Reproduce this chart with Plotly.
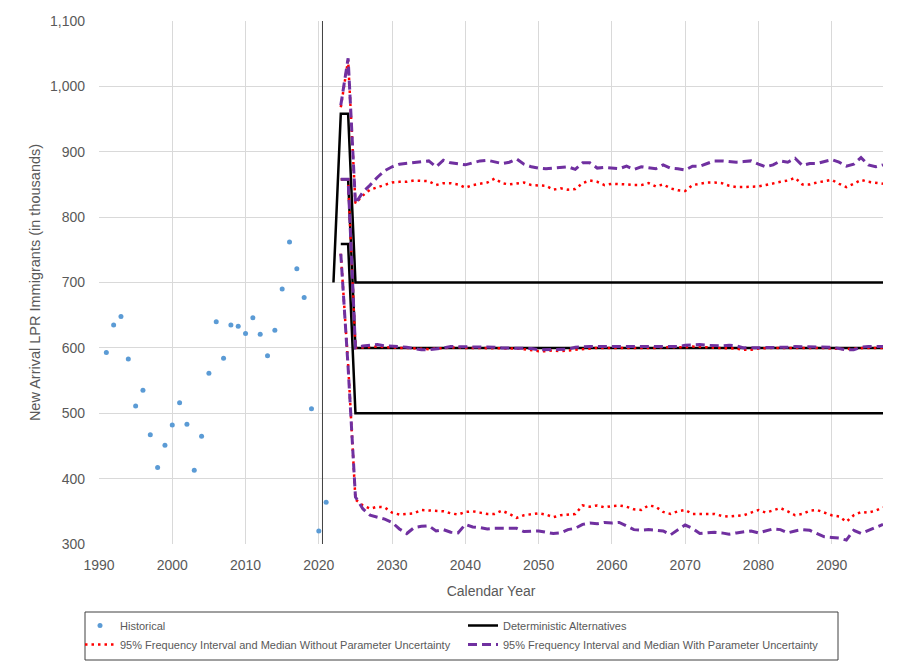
import plotly.graph_objects as go

# Historical new-arrival LPR immigrants (thousands)
hist_years = [1991, 1992, 1993, 1994, 1995, 1996, 1997, 1998, 1999, 2000,
              2001, 2002, 2003, 2004, 2005, 2006, 2007, 2008, 2009, 2010,
              2011, 2012, 2013, 2014, 2015, 2016, 2017, 2018, 2019, 2020, 2021]
hist_values = [593, 635, 648, 583, 511, 535, 467, 417, 451, 482,
               516, 483, 413, 465, 561, 640, 584, 635, 633, 622,
               646, 621, 588, 627, 690, 762, 721, 677, 507, 320, 364]

# Deterministic alternatives (high / intermediate / low)
det_high_years = [2022, 2023, 2024, 2025, 2097]
det_high_values = [700, 958, 958, 700, 700]
det_mid_years = [2023, 2024, 2025, 2097]
det_mid_values = [858, 858, 600, 600]
det_low_years = [2023, 2024, 2025, 2097]
det_low_values = [759, 759, 500, 500]

# Stochastic projection years
proj_years = list(range(2023, 2098))

# Without parameter uncertainty: upper 95%, median, lower 95%
np_upper = [968, 1040, 821,
            833, 842, 846, 850, 853, 854, 854, 856, 856, 855,
            849, 852, 852, 850, 845, 849, 851, 853, 859, 852,
            850, 852, 853, 849, 848, 848, 842, 844, 842, 843,
            852, 856, 854, 849, 851,
            851, 850, 849, 849, 852, 847, 850, 844, 841, 840,
            849, 851, 853, 853, 852, 848, 846, 846, 846, 847,
            849, 852, 854, 856, 860, 850, 850, 853, 855, 857,
            851, 846, 851, 857, 854, 852, 851]
np_median = [858, 858, 600,
             601, 601, 602, 601, 600, 600, 600, 599, 598, 598,
             599, 600, 600, 601, 600, 600, 600, 600, 600, 599,
             599, 599, 598, 596, 595, 595, 596, 595, 596, 598,
             599, 600, 600, 600, 600,
             600, 600, 600, 599, 600, 600, 601, 601, 600, 601,
             602, 602, 601, 600, 600, 600, 599, 597, 597, 599,
             600, 600, 600, 600, 600, 601, 600, 600, 600, 599,
             598, 598, 599, 600, 600, 600, 600]
np_lower = [744, 575, 368,
            359, 354, 357, 356, 348, 345, 346, 347, 352, 351,
            350, 350, 347, 345, 349, 350, 348, 346, 346, 351,
            346, 340, 344, 345, 347, 345, 341, 344, 345, 346,
            359, 357, 359, 356, 358,
            359, 357, 353, 352, 359, 357, 349, 346, 350, 352,
            346, 346, 346, 346, 343, 342, 343, 344, 348, 352,
            348, 351, 355, 350, 344, 346, 351, 352, 348, 344,
            342, 334, 344, 349, 348, 351, 356]

# With parameter uncertainty: upper 95%, median, lower 95%
wp_upper = [971, 1043, 821,
            838, 849, 861, 871, 877, 881, 882, 884, 885, 886,
            877, 887, 883, 882, 880, 883, 886, 887, 885, 882,
            884, 889, 881, 877, 875, 874, 875, 876, 877, 873,
            883, 883, 875, 876, 875,
            874, 878, 873, 877, 876, 874, 880, 875, 874, 872,
            878, 878, 882, 886, 886, 885, 884, 885, 886, 881,
            877, 880, 886, 884, 890, 879, 882, 882, 885, 888,
            884, 878, 881, 891, 880, 877, 880]
wp_median = [858, 858, 600,
             603, 604, 605, 603, 603, 602, 601, 599, 597, 597,
             598, 600, 602, 602, 602, 601, 601, 601, 601, 600,
             600, 600, 600, 599, 597, 597, 597, 597, 598, 601,
             602, 602, 602, 602, 602,
             601, 601, 601, 601, 601, 602, 602, 602, 602, 604,
             605, 605, 604, 603, 603, 604, 603, 600, 600, 600,
             600, 600, 600, 601, 602, 602, 602, 602, 602, 601,
             599, 597, 597, 601, 602, 602, 602]
wp_lower = [744, 570, 372,
            354, 344, 341, 338, 333, 323, 316, 325, 327, 328,
            320, 322, 318, 317, 330, 326, 325, 323, 324, 324,
            324, 324, 319, 319, 320, 318, 316, 317, 322, 324,
            330, 332, 331, 333, 332,
            333, 328, 322, 321, 322, 321, 320, 314, 322, 329,
            324, 316, 317, 318, 317, 315, 317, 318, 320, 317,
            320, 323, 322, 317, 320, 322, 321, 316, 311, 310,
            309, 306, 321, 316, 321, 325, 330]

divider_year = 2020.5

TXT = "#595959"
GRID = "#D9D9D9"
FONT = "Liberation Sans"
W, H = 902, 664


def joined(*parts):
    """Concatenate several line segments into one trace, separated by gaps."""
    out = []
    for k, p in enumerate(parts):
        if k:
            out.append(None)
        out.extend(p)
    return out


fig = go.Figure()

fig.add_trace(go.Scatter(
    x=hist_years, y=hist_values, mode="markers", name="Historical",
    marker=dict(color="#5B9BD5", size=5),
))

fig.add_trace(go.Scatter(
    x=joined(det_high_years, det_mid_years, det_low_years),
    y=joined(det_high_values, det_mid_values, det_low_values),
    mode="lines", name="Deterministic Alternatives",
    line=dict(color="black", width=2.5),
))

fig.add_trace(go.Scatter(
    x=joined(proj_years, proj_years, proj_years),
    y=joined(np_upper, np_median, np_lower),
    mode="lines",
    name="95% Frequency Interval and Median Without Parameter Uncertainty",
    line=dict(color="#FF0000", width=2.5, dash="2.5px,4px"),
))

fig.add_trace(go.Scatter(
    x=joined(proj_years, proj_years, proj_years),
    y=joined(wp_upper, wp_median, wp_lower),
    mode="lines",
    name="95% Frequency Interval and Median With Parameter Uncertainty",
    line=dict(color="#7030A0", width=3, dash="9px,5px"),
))

fig.add_shape(type="line", xref="x", yref="y domain",
              x0=divider_year, x1=divider_year, y0=0, y1=1,
              line=dict(color="#404040", width=1), layer="above")

# Pixel <-> paper conversion for items placed in the bottom margin
ml, mr, mt, mb = 99, 19, 21, 120
pw, ph = W - ml - mr, H - mt - mb


def px_x(p):
    return (p - ml) / pw


def px_y(p):
    return (H - mb - p) / ph


fig.add_shape(type="rect", xref="paper", yref="paper",
              x0=px_x(85), x1=px_x(838), y0=px_y(660), y1=px_y(612),
              line=dict(color="#404040", width=1), fillcolor="rgba(0,0,0,0)")

fig.update_layout(
    width=W, height=H,
    margin=dict(l=ml, r=mr, t=mt, b=mb, autoexpand=False),
    paper_bgcolor="white", plot_bgcolor="white",
    font=dict(family=FONT, color=TXT, size=14),
    xaxis=dict(
        range=[1990, 2097], tick0=1990, dtick=10,
        showgrid=True, gridcolor=GRID, gridwidth=1,
        zeroline=False, showline=False, ticks="",
        ticklabelstandoff=11,
        title=dict(text="Calendar Year", font=dict(size=14, color=TXT), standoff=14),
        tickfont=dict(size=14, color=TXT),
    ),
    yaxis=dict(
        range=[300, 1100], dtick=100, tickformat=",d",
        showgrid=True, gridcolor=GRID, gridwidth=1,
        zeroline=False, showline=False, ticks="",
        ticklabelstandoff=13,
        title=dict(text="New Arrival LPR Immigrants (in thousands)",
                   font=dict(size=14.5, color=TXT), standoff=5),
        tickfont=dict(size=14, color=TXT),
    ),
    legend=dict(
        orientation="h", xref="paper", yref="paper",
        x=px_x(80), y=px_y(611), xanchor="left", yanchor="top",
        entrywidth=338, entrywidthmode="pixels",
        bgcolor="rgba(0,0,0,0)", borderwidth=0,
        font=dict(size=11, color=TXT, family=FONT),
        itemwidth=30, traceorder="normal",
    ),
    showlegend=True,
)

fig.write_html("out.html")
